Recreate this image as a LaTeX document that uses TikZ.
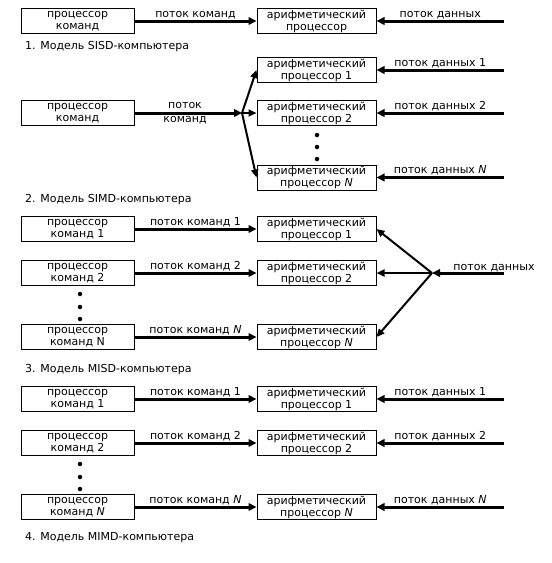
\documentclass[tikz,border=0pt]{standalone}
\usepackage{fontspec}
\setmainfont{DejaVu Sans}
\usetikzlibrary{arrows.meta}
\begin{document}
\begin{tikzpicture}[x=1pt,y=-1pt,
  every node/.style={font=\fontsize{11}{12}\selectfont, inner sep=0pt},
  lbox/.style={draw, line width=1pt, minimum width=113pt, minimum height=25pt, align=center},
  abox/.style={draw, line width=1pt, minimum width=119pt, minimum height=25pt, align=center},
  thk/.style={line width=3pt, -{Triangle[length=8pt,width=7.5pt]}},
  thn/.style={line width=2pt, -{Triangle[length=8pt,width=7pt]}},
  lbl/.style={above=0.5pt},
  captxt/.style={anchor=west},
  bdot/.style={circle, fill, minimum size=4.5pt, inner sep=0pt}]
\useasboundingbox (0,0) rectangle (552,563);

% ---------- 1. SISD ----------
\node[lbox] (p0) at (77.5,21) {процессор\\команд};
\node[abox] (a0) at (316.5,21) {арифметический\\процессор};
\coordinate (d0) at (504,21);
\draw[thk] (p0.east) -- (a0.west) node[midway,lbl] {поток команд};
\draw[thk] (d0) -- (a0.east) node[midway,lbl] {поток данных};
\node[captxt] (c1) at (25,47) {1. Модель SISD-компьютера};

% ---------- 2. SIMD ----------
\node[lbox] (p1) at (77.5,113) {процессор\\команд};
\coordinate (j1) at (242,113);
\node[abox] (a11) at (316.5,70) {арифметический\\процессор 1};
\node[abox] (a12) at (316.5,113) {арифметический\\процессор 2};
\node[abox] (a1N) at (316.5,177.5) {арифметический\\процессор \textit{N}};
\draw[thk] (p1.east) -- (j1) node[pos=0.47, align=center, font=\fontsize{11}{14}\selectfont] {поток\\команд};
\draw[thn] (j1) -- (a11.west);
\draw[thn] (j1) -- (a12.west);
\draw[thn] (j1) -- (a1N.west);
\coordinate (d11) at (504,70);
\coordinate (d12) at (504,113);
\coordinate (d1N) at (504,177.5);
\draw[thk] (d11) -- (a11.east) node[midway,lbl] {поток данных 1};
\draw[thk] (d12) -- (a12.east) node[midway,lbl] {поток данных 2};
\draw[thk] (d1N) -- (a1N.east) node[midway,lbl] {поток данных \textit{N}};
\node[bdot] (s1) at (317,135) {};
\node[bdot] (s2) at (317,147) {};
\node[bdot] (s3) at (317,159) {};
\node[captxt] (c2) at (25,200) {2. Модель SIMD-компьютера};

% ---------- 3. MISD ----------
\node[lbox] (p21) at (77.5,229) {процессор\\команд 1};
\node[lbox] (p22) at (77.5,273) {процессор\\команд 2};
\node[lbox] (p2N) at (77.5,337) {процессор\\команд N};
\node[abox] (a21) at (316.5,229) {арифметический\\процессор 1};
\node[abox] (a22) at (316.5,273) {арифметический\\процессор 2};
\node[abox] (a2N) at (316.5,337) {арифметический\\процессор \textit{N}};
\draw[thk] (p21.east) -- (a21.west) node[midway,lbl] {поток команд 1};
\draw[thk] (p22.east) -- (a22.west) node[midway,lbl] {поток команд 2};
\draw[thk] (p2N.east) -- (a2N.west) node[midway,lbl] {поток команд \textit{N}};
\coordinate (j2) at (432,273);
\coordinate (d2) at (504,273);
\draw[thk] (d2) -- (j2);
\node[lbl] (l2) at (494,273) {поток данных};
\draw[thn] (j2) -- (a21.east);
\draw[thn] (j2) -- (a22.east);
\draw[thn] (j2) -- (a2N.east);
\node[bdot] (m1) at (80,294) {};
\node[bdot] (m2) at (80,307) {};
\node[bdot] (m3) at (80,319) {};
\node[captxt] (c3) at (25,370) {3. Модель MISD-компьютера};

% ---------- 4. MIMD ----------
\node[lbox] (p31) at (77.5,399) {процессор\\команд 1};
\node[lbox] (p32) at (77.5,443) {процессор\\команд 2};
\node[lbox] (p3N) at (77.5,507) {процессор\\команд \textit{N}};
\node[abox] (a31) at (316.5,399) {арифметический\\процессор 1};
\node[abox] (a32) at (316.5,443) {арифметический\\процессор 2};
\node[abox] (a3N) at (316.5,507) {арифметический\\процессор \textit{N}};
\draw[thk] (p31.east) -- (a31.west) node[midway,lbl] {поток команд 1};
\draw[thk] (p32.east) -- (a32.west) node[midway,lbl] {поток команд 2};
\draw[thk] (p3N.east) -- (a3N.west) node[midway,lbl] {поток команд \textit{N}};
\coordinate (d31) at (504,399);
\coordinate (d32) at (504,443);
\coordinate (d3N) at (504,507);
\draw[thk] (d31) -- (a31.east) node[midway,lbl] {поток данных 1};
\draw[thk] (d32) -- (a32.east) node[midway,lbl] {поток данных 2};
\draw[thk] (d3N) -- (a3N.east) node[midway,lbl] {поток данных \textit{N}};
\node[bdot] (n1) at (80,464) {};
\node[bdot] (n2) at (80,477) {};
\node[bdot] (n3) at (80,489) {};
\node[captxt] (c4) at (25,538) {4. Модель MIMD-компьютера};
\end{tikzpicture}
\end{document}
